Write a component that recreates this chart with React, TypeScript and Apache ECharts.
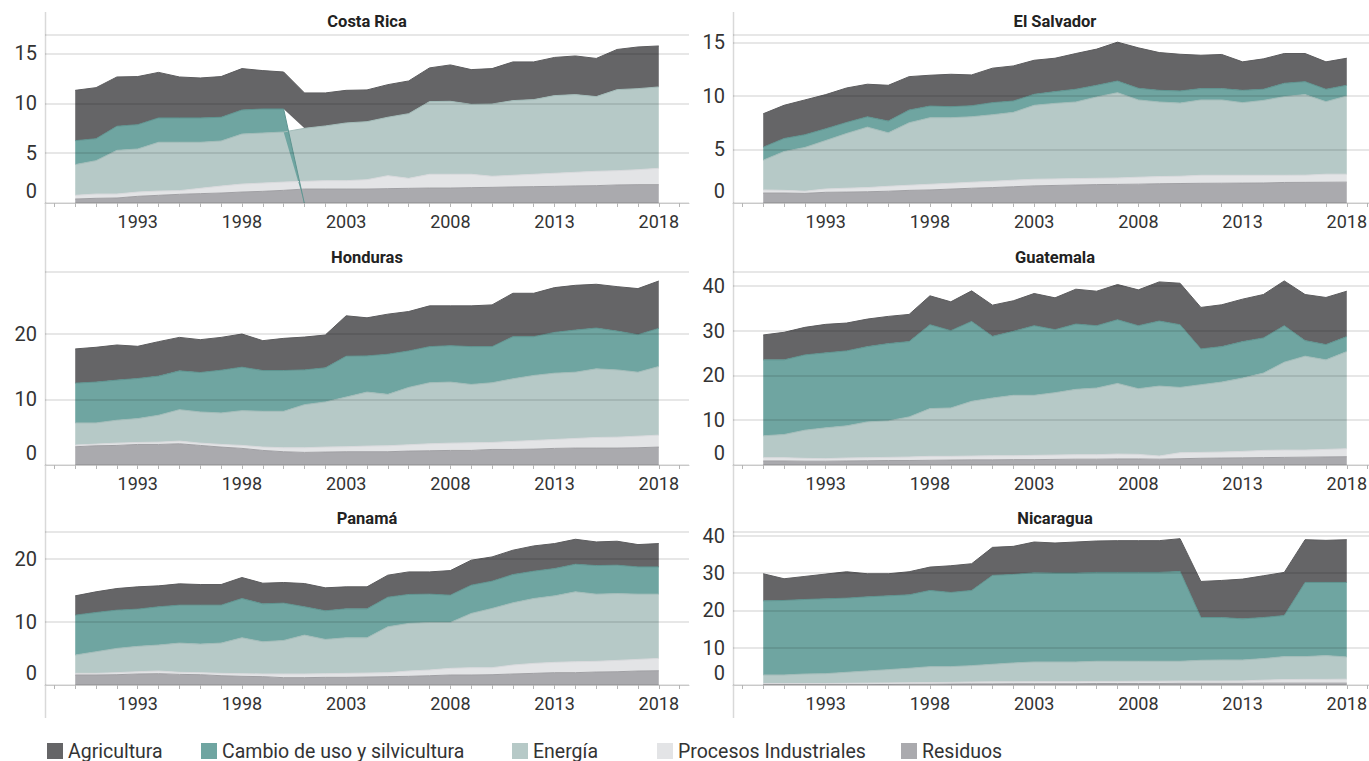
import React, { useEffect, useRef } from 'react';
import * as echarts from 'echarts';

const YEARS = [1990, 1991, 1992, 1993, 1994, 1995, 1996, 1997, 1998, 1999, 2000, 2001, 2002, 2003, 2004, 2005, 2006, 2007, 2008, 2009, 2010, 2011, 2012, 2013, 2014, 2015, 2016, 2017, 2018];
const LABEL_YEARS = [1993, 1998, 2003, 2008, 2013, 2018];
const TICK_YEARS = [1989, 1990, 1991, 1992, 1993, 1994, 1995, 1996, 1997, 1998, 1999, 2000, 2001, 2002, 2003, 2004, 2005, 2006, 2007, 2008, 2009, 2010, 2011, 2012, 2013, 2014, 2015, 2016, 2017, 2018, 2019];

const SECTORS = ['Residuos', 'Procesos Industriales', 'Energía', 'Cambio de uso y silvicultura', 'Agricultura'];
const LEGEND_ORDER = ['Agricultura', 'Cambio de uso y silvicultura', 'Energía', 'Procesos Industriales', 'Residuos'];
const FILL: Record<string, string> = {
  'Agricultura': '#656567',
  'Cambio de uso y silvicultura': '#6fa5a1',
  'Energía': '#b6c9c7',
  'Procesos Industriales': '#e3e4e6',
  'Residuos': '#aaaaae',
};
const EDGE: Record<string, string> = {
  'Agricultura': '#5c5c5e',
  'Cambio de uso y silvicultura': '#5e9490',
  'Energía': '#a3bcb9',
  'Procesos Industriales': '#d8d9dc',
  'Residuos': '#a0a0a4',
};

// Costa Rica
const crRes = [0.4, 0.47, 0.5, 0.67, 0.77, 0.87, 0.94, 1.0, 1.1, 1.17, 1.27, 1.4, 1.4, 1.4, 1.4, 1.44, 1.47, 1.5, 1.5, 1.54, 1.57, 1.61, 1.64, 1.67, 1.71, 1.74, 1.81, 1.84, 1.84];
const crProc = [0.37, 0.43, 0.4, 0.43, 0.43, 0.37, 0.53, 0.7, 0.8, 0.83, 0.83, 0.77, 0.84, 0.84, 0.94, 1.3, 1.0, 1.38, 1.38, 1.34, 1.11, 1.17, 1.24, 1.31, 1.37, 1.44, 1.43, 1.5, 1.64];
const crEner = [3.08, 3.35, 4.38, 4.32, 4.89, 4.85, 4.62, 4.52, 5.02, 5.02, 5.02, 5.32, 5.49, 5.79, 5.82, 5.86, 6.49, 7.29, 7.32, 7.02, 7.25, 7.49, 7.49, 7.79, 7.79, 7.49, 8.13, 8.13, 8.16];
const crCamb = [2.4, 2.2, 2.42, 2.44, 2.44, 2.44, 2.44, 2.38, 2.41, 2.41, 2.31, -0.1, -0.1, -0.1, -0.1, -0.1, -0.1, -0.1, -0.1, -0.1, -0.1, -0.1, -0.1, -0.1, -0.1, -0.1, -0.1, -0.1, -0.1];
const crAgri = [5.05, 5.12, 4.94, 4.82, 4.57, 4.11, 4.01, 4.08, 4.15, 3.85, 3.71, 3.55, 3.31, 3.27, 3.18, 3.27, 3.28, 3.38, 3.65, 3.48, 3.55, 3.88, 3.78, 3.83, 3.88, 3.83, 4.03, 4.18, 4.11];

// El Salvador
const esRes = [0.93, 0.93, 0.9, 1.0, 1.02, 1.05, 1.1, 1.18, 1.22, 1.3, 1.38, 1.44, 1.52, 1.6, 1.64, 1.68, 1.72, 1.74, 1.76, 1.8, 1.82, 1.84, 1.85, 1.86, 1.87, 1.92, 1.93, 1.94, 1.95];
const esProc = [0.29, 0.25, 0.2, 0.31, 0.36, 0.39, 0.46, 0.48, 0.53, 0.54, 0.56, 0.59, 0.61, 0.62, 0.61, 0.6, 0.59, 0.6, 0.65, 0.67, 0.68, 0.75, 0.74, 0.73, 0.72, 0.67, 0.67, 0.75, 0.74];
const esEner = [2.78, 3.63, 4.09, 4.53, 5.12, 5.65, 5.0, 5.84, 6.22, 6.13, 6.12, 6.22, 6.34, 6.91, 7.06, 7.16, 7.6, 7.97, 7.22, 6.97, 6.84, 7.04, 7.04, 6.79, 7.0, 7.35, 7.53, 6.78, 7.31];
const esCamb = [1.22, 1.22, 1.19, 1.1, 1.03, 0.97, 1.1, 1.19, 1.09, 1.03, 1.03, 1.13, 1.06, 1.03, 1.1, 1.19, 1.09, 1.09, 1.09, 1.09, 1.13, 1.06, 1.06, 1.15, 1.04, 1.25, 1.21, 1.16, 1.0];
const esAgri = [3.12, 3.1, 3.25, 3.19, 3.22, 3.04, 3.34, 3.12, 2.88, 3.03, 2.88, 3.22, 3.28, 3.18, 3.12, 3.34, 3.38, 3.63, 3.78, 3.53, 3.43, 3.12, 3.19, 2.66, 2.84, 2.78, 2.63, 2.56, 2.53];

// Honduras
const hnRes = [2.78, 2.93, 2.98, 3.13, 3.13, 3.23, 2.98, 2.73, 2.53, 2.22, 2.02, 1.92, 1.97, 2.02, 2.02, 2.02, 2.12, 2.17, 2.22, 2.22, 2.37, 2.37, 2.42, 2.53, 2.58, 2.58, 2.58, 2.63, 2.73];
const hnProc = [0.25, 0.25, 0.35, 0.3, 0.35, 0.41, 0.35, 0.4, 0.45, 0.51, 0.61, 0.71, 0.76, 0.76, 0.86, 0.91, 0.96, 1.06, 1.11, 1.16, 1.06, 1.22, 1.32, 1.36, 1.46, 1.61, 1.66, 1.76, 1.82];
const hnEner = [3.38, 3.23, 3.49, 3.64, 4.1, 4.79, 4.75, 4.8, 5.3, 5.45, 5.55, 6.56, 6.87, 7.57, 8.23, 7.83, 8.74, 9.3, 9.3, 8.89, 9.1, 9.54, 9.9, 10.1, 10.1, 10.46, 10.25, 9.75, 10.45];
const hnCamb = [6.06, 6.22, 6.11, 6.11, 5.96, 5.91, 6.01, 6.51, 6.62, 6.21, 6.21, 5.3, 5.2, 6.22, 5.51, 6.11, 5.55, 5.5, 5.55, 5.76, 5.5, 6.42, 5.91, 6.21, 6.42, 6.21, 5.91, 5.71, 5.81];
const hnAgri = [5.21, 5.3, 5.35, 4.9, 5.25, 5.1, 5.0, 5.0, 5.05, 4.55, 4.9, 5.0, 5.0, 6.16, 5.8, 6.11, 6.01, 6.21, 6.06, 6.21, 6.36, 6.61, 6.61, 6.82, 6.81, 6.67, 6.77, 7.02, 7.22];

// Guatemala
const gtRes = [0.9, 0.9, 0.85, 0.85, 0.9, 0.95, 1.0, 1.0, 1.05, 1.1, 1.15, 1.15, 1.2, 1.2, 1.25, 1.3, 1.3, 1.35, 1.35, 1.3, 1.4, 1.5, 1.55, 1.6, 1.65, 1.7, 1.75, 1.8, 1.85];
const gtProc = [0.73, 0.73, 0.63, 0.56, 0.66, 0.68, 0.7, 0.78, 0.88, 0.83, 0.85, 0.92, 0.87, 0.95, 0.97, 1.0, 1.0, 1.09, 1.02, 0.7, 1.34, 1.31, 1.34, 1.44, 1.61, 1.63, 1.58, 1.68, 1.78];
const gtEner = [4.89, 5.18, 6.3, 6.89, 7.18, 8.0, 8.15, 8.96, 10.66, 10.81, 12.22, 12.89, 13.49, 13.41, 13.93, 14.59, 14.89, 15.78, 14.67, 15.63, 14.59, 15.12, 15.63, 16.37, 17.26, 19.63, 20.97, 20.0, 21.7];
const gtCamb = [16.96, 16.67, 16.81, 16.74, 16.74, 16.81, 17.26, 16.82, 18.74, 17.26, 17.85, 13.78, 14.29, 15.55, 14.07, 14.59, 13.92, 14.22, 14.07, 14.52, 14.0, 8.0, 7.92, 8.15, 7.85, 8.15, 3.48, 3.41, 3.34];
const gtAgri = [5.56, 6.15, 6.15, 6.37, 6.22, 6.15, 6.08, 6.07, 6.45, 6.44, 6.82, 6.96, 6.82, 7.19, 7.11, 7.78, 7.7, 7.86, 8.0, 8.74, 9.26, 9.26, 9.34, 9.48, 9.7, 10.0, 10.29, 10.52, 10.14];

// Panamá
const paRes = [1.58, 1.58, 1.63, 1.74, 1.79, 1.68, 1.63, 1.47, 1.37, 1.32, 1.16, 1.16, 1.21, 1.21, 1.26, 1.32, 1.37, 1.47, 1.58, 1.58, 1.63, 1.74, 1.84, 1.95, 1.95, 2.05, 2.1, 2.21, 2.26];
const paProc = [0.26, 0.26, 0.32, 0.36, 0.42, 0.32, 0.32, 0.37, 0.42, 0.42, 0.58, 0.58, 0.58, 0.63, 0.63, 0.63, 0.84, 0.9, 1.05, 1.16, 1.11, 1.42, 1.58, 1.63, 1.73, 1.69, 1.79, 1.84, 1.95];
const paEner = [2.9, 3.42, 3.84, 4.01, 4.11, 4.63, 4.52, 4.79, 5.68, 5.1, 5.31, 6.15, 5.42, 5.63, 5.58, 7.26, 7.53, 7.52, 7.26, 8.58, 9.37, 9.84, 10.26, 10.52, 11.06, 10.63, 10.58, 10.32, 10.16];
const paCamb = [6.31, 6.21, 6.05, 5.89, 6.05, 6.0, 6.16, 6.0, 6.21, 6.0, 5.9, 4.48, 4.53, 4.58, 4.58, 4.68, 4.58, 4.48, 4.32, 4.47, 4.31, 4.47, 4.32, 4.32, 4.36, 4.52, 4.48, 4.31, 4.31];
const paAgri = [3.05, 3.27, 3.42, 3.53, 3.31, 3.37, 3.26, 3.26, 3.32, 3.26, 3.26, 3.68, 3.63, 3.48, 3.48, 3.48, 3.57, 3.52, 3.89, 3.95, 3.84, 3.85, 4.0, 3.95, 3.95, 3.74, 3.79, 3.53, 3.69];

// Nicaragua
const niRes = [0.1, 0.1, 0.1, 0.1, 0.1, 0.1, 0.15, 0.2, 0.2, 0.25, 0.3, 0.3, 0.35, 0.35, 0.35, 0.35, 0.4, 0.4, 0.4, 0.4, 0.45, 0.45, 0.45, 0.45, 0.5, 0.5, 0.5, 0.5, 0.5];
const niProc = [0.3, 0.3, 0.3, 0.3, 0.35, 0.4, 0.4, 0.4, 0.45, 0.45, 0.5, 0.55, 0.5, 0.55, 0.55, 0.55, 0.55, 0.55, 0.6, 0.6, 0.6, 0.6, 0.6, 0.65, 0.8, 0.95, 1.0, 1.0, 1.05];
const niEner = [2.29, 2.29, 2.55, 2.64, 2.95, 3.26, 3.57, 3.88, 4.27, 4.22, 4.39, 4.7, 5.06, 5.28, 5.28, 5.28, 5.41, 5.41, 5.36, 5.36, 5.31, 5.57, 5.66, 5.61, 5.77, 6.16, 6.11, 6.38, 5.97];
const niCamb = [19.87, 19.96, 19.97, 20.06, 19.88, 19.87, 19.78, 19.69, 20.42, 19.88, 20.15, 23.81, 23.72, 23.9, 23.81, 23.81, 23.81, 23.81, 23.81, 23.81, 24.08, 11.46, 11.37, 11.02, 11.01, 11.01, 19.87, 19.6, 19.96];
const niAgri = [7.25, 5.82, 6.18, 6.62, 7.07, 6.18, 5.91, 6.18, 6.26, 7.16, 7.16, 7.52, 7.52, 8.24, 8.06, 8.33, 8.42, 8.51, 8.51, 8.51, 8.77, 9.67, 9.94, 10.65, 11.19, 11.55, 11.46, 11.28, 11.46];

const PANELS = [
  { name: 'Costa Rica', row: 0, col: 0, yMax: 16.85, step: 5, values: [crRes, crProc, crEner, crCamb, crAgri] },
  { name: 'El Salvador', row: 0, col: 1, yMax: 15.7, step: 5, values: [esRes, esProc, esEner, esCamb, esAgri] },
  { name: 'Honduras', row: 1, col: 0, yMax: 29.4, step: 10, values: [hnRes, hnProc, hnEner, hnCamb, hnAgri] },
  { name: 'Guatemala', row: 1, col: 1, yMax: 43.1, step: 10, values: [gtRes, gtProc, gtEner, gtCamb, gtAgri] },
  { name: 'Panamá', row: 2, col: 0, yMax: 24.2, step: 10, values: [paRes, paProc, paEner, paCamb, paAgri] },
  { name: 'Nicaragua', row: 2, col: 1, yMax: 41.0, step: 10, values: [niRes, niProc, niEner, niCamb, niAgri] },
];

const FONT = "Roboto, 'Noto Sans', sans-serif";
const COL_X = [45, 733];
const FRAME_W = 644;
const ROW_TOP = [35, 272, 532];
const ROW_H = [168, 193, 153];
const X_MIN = 1988.55;
const X_MAX = 2019.45;
const LEGEND_X = [47, 201, 512, 657, 901];

function buildOption() {
  const grid: any[] = [];
  const xAxis: any[] = [];
  const yAxis: any[] = [];
  const series: any[] = [];
  const title: any[] = [];
  const span = X_MAX - X_MIN;

  PANELS.forEach((p, i) => {
    const left = COL_X[p.col];
    const top = ROW_TOP[p.row];
    const height = ROW_H[p.row];
    const dataLeft = left + ((YEARS[0] - X_MIN) / span) * FRAME_W;
    const dataW = ((YEARS[YEARS.length - 1] - YEARS[0]) / span) * FRAME_W;
    grid.push({ left, top, width: FRAME_W, height, containLabel: false });
    grid.push({ left: dataLeft, top, width: dataW, height, containLabel: false });

    xAxis.push({
      gridIndex: 2 * i,
      type: 'value',
      min: X_MIN,
      max: X_MAX,
      z: 3,
      splitLine: { show: false },
      axisLine: { show: true, lineStyle: { color: '#c9c9c9', width: 1 } },
      axisTick: { show: true, customValues: TICK_YEARS, length: 4, lineStyle: { color: '#b5b5b5' } },
      axisLabel: {
        customValues: LABEL_YEARS,
        formatter: (v: number) => String(v),
        fontSize: 18,
        color: '#333',
        margin: 9,
        fontFamily: FONT,
      },
    });
    xAxis.push({
      gridIndex: 2 * i + 1,
      type: 'category',
      data: YEARS.map(String),
      boundaryGap: false,
      show: false,
    });

    yAxis.push({
      gridIndex: 2 * i,
      type: 'value',
      min: 0,
      max: p.yMax,
      interval: p.step,
      z: 3,
      axisLine: { show: false },
      axisTick: { show: false },
      splitLine: { show: true, lineStyle: { color: 'rgba(0,0,0,0.13)', width: 1.5 } },
      axisLabel: {
        showMaxLabel: false,
        fontSize: 20,
        color: '#333',
        margin: 8,
        fontFamily: FONT,
        formatter: (v: number) => (v === 0 ? '{z|0}' : String(v)),
        rich: {
          z: { fontSize: 20, color: '#333', fontFamily: FONT, padding: [0, 0, 24, 0] },
        },
      },
    });
    yAxis.push({
      gridIndex: 2 * i + 1,
      type: 'value',
      min: 0,
      max: p.yMax,
      show: false,
    });

    SECTORS.forEach((s, k) => {
      series.push({
        type: 'line',
        name: s,
        xAxisIndex: 2 * i + 1,
        yAxisIndex: 2 * i + 1,
        stack: 'panel' + i,
        data: p.values[k],
        symbol: 'none',
        showSymbol: false,
        silent: true,
        z: 2,
        itemStyle: { color: FILL[s] },
        lineStyle: { color: EDGE[s], width: 1 },
        areaStyle: { color: FILL[s], opacity: 1 },
      });
    });

    title.push({
      text: p.name,
      left: left + FRAME_W / 2,
      top: top - (p.row === 0 ? 22 : p.row === 1 ? 23 : 22),
      textAlign: 'center',
      padding: 0,
      textStyle: { fontSize: 16.5, fontWeight: 'bold', color: '#222', fontFamily: FONT },
    });
  });

  const legend = LEGEND_ORDER.map((name, i) => ({
    data: [name],
    left: LEGEND_X[i],
    top: 741,
    padding: 0,
    icon: 'rect',
    itemWidth: 16,
    itemHeight: 16,
    itemGap: 8,
    selectedMode: false,
    textStyle: { fontSize: 19.5, lineHeight: 18, color: '#333', fontFamily: FONT },
  }));

  const graphic = COL_X.map((x) => ({
    type: 'line',
    silent: true,
    shape: { x1: x + 0.5, y1: 12, x2: x + 0.5, y2: 718 },
    style: { stroke: '#d9d9d9', lineWidth: 1.5 },
  }));

  return {
    animation: false,
    backgroundColor: '#ffffff',
    textStyle: { fontFamily: FONT },
    title,
    legend,
    grid,
    xAxis,
    yAxis,
    series,
    graphic,
  };
}

export default function App() {
  const ref = useRef<HTMLDivElement>(null);
  useEffect(() => {
    if (!ref.current) return;
    const chart = echarts.init(ref.current, undefined, { renderer: 'svg' });
    chart.setOption(buildOption() as any);
    return () => chart.dispose();
  }, []);
  return (
    <div style={{ position: 'fixed', left: 0, top: 0, width: 1369, height: 761, overflow: 'hidden', background: '#fff' }}>
      <div ref={ref} style={{ width: 1380, height: 761 }} />
    </div>
  );
}
